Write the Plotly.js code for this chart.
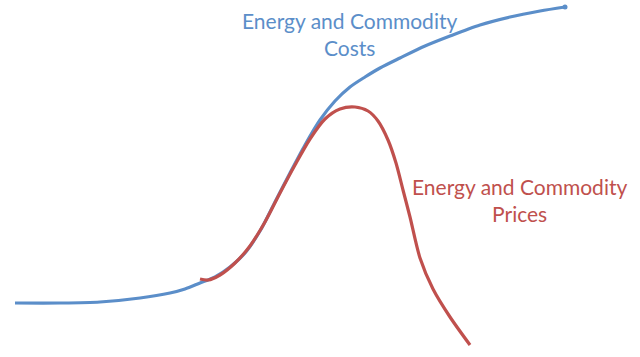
<!DOCTYPE html>
<html>
<head>
<meta charset="utf-8">
<script src="https://cdn.plot.ly/plotly-3.0.1.min.js"></script>
<style>html,body{margin:0;padding:0;background:#fff;}#chart{width:640px;height:357px;}</style>
</head>
<body>
<div id="chart"></div>
<script>
// Energy and commodity costs (blue)
const costsX = [15, 60, 100, 140, 170, 185, 200, 215, 230, 245, 260, 275, 290, 305, 320, 335, 350, 365, 380, 400, 425, 450, 480, 510, 540, 565];
const costsY = [54, 54, 55, 59, 64, 68, 74, 80, 90, 104, 126, 155, 184, 212, 237, 256, 270, 280, 289, 299, 311, 321, 332, 340, 346, 350];
// Energy and commodity prices (red)
const pricesX = [200, 208, 220, 235, 250, 265, 280, 295, 310, 325, 340, 355, 368, 378, 388, 396, 403, 410, 420, 433, 450, 470];
const pricesY = [78, 77, 82, 94, 111, 135, 164, 192, 218, 238, 248, 250, 246, 236, 217, 194, 167, 140, 99, 68, 40, 12];

const costsLabel = "Energy and Commodity<br>Costs";
const pricesLabel = "Energy and Commodity<br>Prices";

const blue = "#5b8ec9";
const red = "#c0504d";

const traces = [
  {x: costsX, y: costsY, mode: "lines", line: {color: blue, width: 3.2, shape: "spline", smoothing: 0.8}, hoverinfo: "skip"},
  {x: [costsX[costsX.length-1]], y: [costsY[costsY.length-1]], mode: "markers", marker: {color: blue, size: 5}, hoverinfo: "skip"},
  {x: pricesX, y: pricesY, mode: "lines", line: {color: red, width: 3.2, shape: "spline", smoothing: 0.8}, hoverinfo: "skip"}
];

const layout = {
  width: 640, height: 357,
  margin: {l: 0, r: 0, t: 0, b: 0},
  paper_bgcolor: "#fff", plot_bgcolor: "#fff",
  showlegend: false,
  xaxis: {range: [0, 640], visible: false, fixedrange: true},
  yaxis: {range: [0, 357], visible: false, fixedrange: true},
  annotations: [
    {x: 349, y: 323, xref: "x", yref: "y", text: costsLabel, showarrow: false,
     font: {family: "Lato, sans-serif", size: 21, color: blue}, align: "center"},
    {x: 519, y: 157, xref: "x", yref: "y", text: pricesLabel, showarrow: false,
     font: {family: "Lato, sans-serif", size: 21, color: red}, align: "center"}
  ]
};

Plotly.newPlot("chart", traces, layout, {displayModeBar: false, staticPlot: true});
</script>
</body>
</html>
